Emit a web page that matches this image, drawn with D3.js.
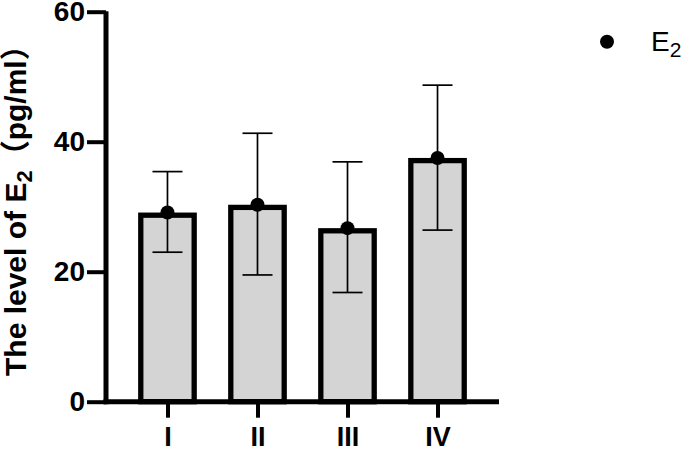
<!DOCTYPE html>
<html>
<head>
<meta charset="utf-8">
<script src="https://cdn.jsdelivr.net/npm/d3@7"></script>
<style>
  body { margin: 0; background: #fff; }
  svg { display: block; }
</style>
</head>
<body>
<div id="chart"></div>
<script>
// data
const categories = ["I", "II", "III", "IV"];
const means = [29.1, 30.3, 26.7, 37.5];
const errLow = [23.0, 19.5, 16.8, 26.4];
const errHigh = [35.4, 41.3, 36.9, 48.7];
const yTicks = [0, 20, 40, 60];

const width = 685, height = 450;
const font = "'Liberation Sans', Arial, sans-serif";

const svg = d3.select("#chart").append("svg")
  .attr("width", width)
  .attr("height", height);

const x = d3.scalePoint()
  .domain(categories)
  .range([106, 499])
  .padding(0.683);

const y = d3.scaleLinear()
  .domain([0, 60])
  .range([401.7, 11.7]);

const rows = categories.map((c, i) => ({
  cat: c, mean: means[i], lo: errLow[i], hi: errHigh[i]
}));

var barW = 58.7;
var barStroke = 5.3;

// bars (border drawn inside the bar outline)
svg.append("g").selectAll("rect")
  .data(rows)
  .enter()
  .append("rect")
  .attr("x", d => x(d.cat) - barW / 2 + barStroke / 2)
  .attr("y", d => y(d.mean) + barStroke / 2)
  .attr("width", barW - barStroke)
  .attr("height", d => y(0) - y(d.mean) - barStroke / 2)
  .style("fill", "#d4d4d4")
  .style("stroke", "#000")
  .style("stroke-width", barStroke);

// error bars
var capW = 30;
const err = svg.append("g")
  .style("stroke", "#000")
  .style("stroke-width", 1.7);
err.selectAll("line.v")
  .data(rows)
  .enter()
  .append("line")
  .attr("class", "v")
  .attr("x1", d => x(d.cat))
  .attr("x2", d => x(d.cat))
  .attr("y1", d => y(d.lo))
  .attr("y2", d => y(d.hi));
err.selectAll("line.top")
  .data(rows)
  .enter()
  .append("line")
  .attr("class", "top")
  .attr("x1", d => x(d.cat) - capW / 2)
  .attr("x2", d => x(d.cat) + capW / 2)
  .attr("y1", d => y(d.hi))
  .attr("y2", d => y(d.hi));
err.selectAll("line.bot")
  .data(rows)
  .enter()
  .append("line")
  .attr("class", "bot")
  .attr("x1", d => x(d.cat) - capW / 2)
  .attr("x2", d => x(d.cat) + capW / 2)
  .attr("y1", d => y(d.lo))
  .attr("y2", d => y(d.lo));

// mean points
svg.append("g").selectAll("circle")
  .data(rows)
  .enter()
  .append("circle")
  .attr("cx", d => x(d.cat))
  .attr("cy", d => y(d.mean))
  .attr("r", 7)
  .style("fill", "#000");

// axes
const yAxis = svg.append("g")
  .attr("transform", "translate(106,0)")
  .call(d3.axisLeft(y).tickValues(yTicks).tickSize(19).tickSizeOuter(0).tickPadding(2));
yAxis.select(".domain").style("stroke-width", 5).attr("d", "M0," + (y(0) + 2.5) + "V" + (y(60) - 0.5));
yAxis.selectAll(".tick line").style("stroke-width", 4);
yAxis.selectAll(".tick text")
  .style("font", "bold 28px " + font)
  .attr("fill", "#000");

const xAxis = svg.append("g")
  .attr("transform", "translate(0," + y(0) + ")")
  .call(d3.axisBottom(x).tickSize(16).tickSizeOuter(0).tickPadding(9));
xAxis.select(".domain").style("stroke-width", 5).attr("d", "M103.5,0H499");
xAxis.selectAll(".tick line").style("stroke-width", 4);
xAxis.selectAll(".tick text")
  .style("font", "bold 27px " + font)
  .attr("fill", "#000");

// y title
const title = svg.append("text")
  .attr("transform", "translate(26,376) rotate(-90)")
  .style("font", "bold 30px " + font)
  .attr("fill", "#000");
title.append("tspan").text("The level of E");
title.append("tspan").attr("dy", 6).style("font-size", "22px").text("2");
title.append("tspan").attr("dy", -6)
  .style("font-family", "'Noto Sans CJK SC', sans-serif").text("（");
title.append("tspan").text("pg/ml");
title.append("tspan")
  .style("font-family", "'Noto Sans CJK SC', sans-serif").text("）");

// legend
svg.append("circle")
  .attr("cx", 607)
  .attr("cy", 41.7)
  .attr("r", 7)
  .style("fill", "#000");
const leg = svg.append("text")
  .attr("x", 651)
  .attr("y", 51)
  .style("font", "28px " + font)
  .attr("fill", "#000");
leg.append("tspan").text("E");
leg.append("tspan").attr("dy", 6).style("font-size", "21px").text("2");
</script>
</body>
</html>
